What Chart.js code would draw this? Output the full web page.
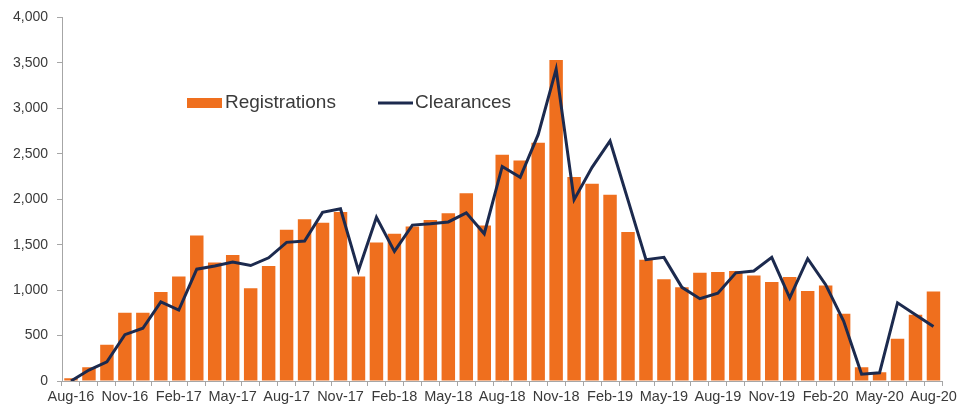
<!DOCTYPE html>
<html>
<head>
<meta charset="utf-8">
<script src="https://cdn.jsdelivr.net/npm/chart.js@4/dist/chart.umd.min.js"></script>
<style>
  html, body { margin: 0; padding: 0; background: #fff; }
  #wrap { width: 959px; height: 407px; }
</style>
</head>
<body>
<div id="wrap"><canvas id="chart" width="959" height="407"></canvas></div>
<script>
// months Aug-16 .. Aug-20
const months = [
  'Aug-16','Sep-16','Oct-16','Nov-16','Dec-16','Jan-17','Feb-17','Mar-17','Apr-17','May-17','Jun-17','Jul-17',
  'Aug-17','Sep-17','Oct-17','Nov-17','Dec-17','Jan-18','Feb-18','Mar-18','Apr-18','May-18','Jun-18','Jul-18',
  'Aug-18','Sep-18','Oct-18','Nov-18','Dec-18','Jan-19','Feb-19','Mar-19','Apr-19','May-19','Jun-19','Jul-19',
  'Aug-19','Sep-19','Oct-19','Nov-19','Dec-19','Jan-20','Feb-20','Mar-20','Apr-20','May-20','Jun-20','Jul-20',
  'Aug-20'
];

const registrations = [
  30, 150, 400, 750, 750, 980, 1150, 1600, 1305, 1385, 1020, 1265,
  1665, 1780, 1740, 1860, 1150, 1525, 1620, 1700, 1770, 1845, 2065, 1710,
  2490, 2425, 2620, 3530, 2245, 2170, 2050, 1640, 1335, 1120, 1030, 1190,
  1200, 1210, 1160, 1090, 1145, 990, 1050, 740, 150, 95, 465, 730,
  985
];

const clearances = [
  0, 120, 210, 510, 580, 870, 780, 1230, 1265, 1310, 1270, 1355,
  1525, 1540, 1855, 1895, 1215, 1800, 1425, 1715, 1730, 1750, 1850, 1620,
  2360, 2240, 2710, 3430, 1995, 2350, 2640, 1990, 1335, 1360, 1030, 905,
  965, 1190, 1210, 1360, 915, 1345, 1060, 660, 75, 90, 860, 730,
  600
];

const yTicks = [0, 500, 1000, 1500, 2000, 2500, 3000, 3500, 4000];

const orange = '#EF6F1E';
const navy = '#1C2A4E';
const textCol = '#3a3a3a';
const axisCol = '#a6a6a6';

// legend sits inside the plot, drawn by hand
const insideLegend = {
  id: 'insideLegend',
  afterDraw(chart) {
    const ctx = chart.ctx;
    const bar = chart.data.datasets[0];
    const line = chart.data.datasets[1];
    const y = 103;
    ctx.save();
    ctx.font = '19px Arial, "Liberation Sans", sans-serif';
    ctx.textBaseline = 'middle';
    ctx.fillStyle = bar.backgroundColor;
    ctx.fillRect(187, y - 5, 35, 10);
    ctx.fillStyle = textCol;
    ctx.fillText(bar.label, 225, y);
    ctx.strokeStyle = line.borderColor;
    ctx.lineWidth = 3;
    ctx.beginPath();
    ctx.moveTo(378, y);
    ctx.lineTo(413, y);
    ctx.stroke();
    ctx.fillText(line.label, 415, y);
    ctx.restore();
  }
};

const ctx = document.getElementById('chart').getContext('2d');
new Chart(ctx, {
  type: 'bar',
  data: {
    labels: months,
    datasets: [
      {
        type: 'bar',
        label: 'Registrations',
        data: registrations,
        backgroundColor: orange,
        borderWidth: 0,
        categoryPercentage: 1,
        barPercentage: 0.75,
        order: 1
      },
      {
        type: 'line',
        label: 'Clearances',
        data: clearances,
        borderColor: navy,
        backgroundColor: navy,
        borderWidth: 3,
        pointRadius: 0,
        tension: 0,
        order: 0
      }
    ]
  },
  options: {
    responsive: false,
    animation: false,
    layout: { padding: { top: 15, right: 15, left: 0, bottom: 0 } },
    plugins: {
      legend: { display: false },
      tooltip: { enabled: false }
    },
    scales: {
      x: {
        afterFit(scale) { scale.height = 26; },
        grid: { drawOnChartArea: false, drawTicks: true, tickLength: 5, color: axisCol, offset: true },
        border: { color: axisCol, width: 1 },
        ticks: {
          autoSkip: false,
          maxRotation: 0,
          minRotation: 0,
          padding: 2,
          color: textCol,
          font: { family: 'Arial, "Liberation Sans", sans-serif', size: 14.5 },
          callback: function (val, index) {
            return index % 3 === 0 ? this.getLabelForValue(val) : '';
          }
        }
      },
      y: {
        min: 0,
        max: 4000,
        afterFit(scale) { scale.width = 62; },
        afterBuildTicks(scale) { scale.ticks = yTicks.map(v => ({ value: v })); },
        grid: { drawOnChartArea: false, drawTicks: true, tickLength: 5, color: axisCol },
        border: { color: axisCol, width: 1 },
        ticks: {
          padding: 9,
          color: textCol,
          font: { family: 'Arial, "Liberation Sans", sans-serif', size: 14 },
          callback: v => v.toLocaleString('en-US')
        }
      }
    }
  },
  plugins: [insideLegend]
});
</script>
</body>
</html>
